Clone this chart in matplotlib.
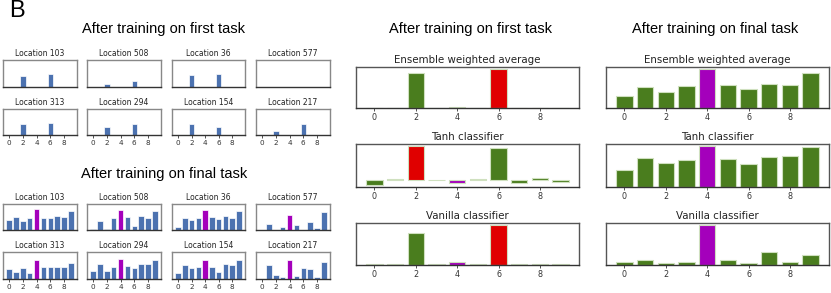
import matplotlib
matplotlib.use("Agg")
import matplotlib.pyplot as plt
import numpy as np

classes = np.arange(10)
xticks = [0, 2, 4, 6, 8]

# left panel: per-location outputs
locations_top = ["Location 103", "Location 508", "Location 36", "Location 577"]
locations_bot = ["Location 313", "Location 294", "Location 154", "Location 217"]

first_task_locs = [
    [0, 0, 0.40, 0, 0.01, 0, 0.49, 0, 0, 0],
    [0, 0, 0.11, 0, 0.01, 0, 0.22, 0, 0, 0],
    [0, 0, 0.43, 0, 0.01, 0, 0.47, 0, 0, 0],
    [0, 0, 0.00, 0, 0.01, 0, 0.00, 0, 0, 0],
    [0, 0, 0.41, 0, 0.00, 0, 0.46, 0, 0, 0],
    [0, 0, 0.32, 0, 0.00, 0, 0.42, 0, 0, 0],
    [0, 0, 0.41, 0, 0.01, 0, 0.31, 0, 0, 0],
    [0, 0, 0.17, 0, 0.00, 0, 0.42, 0, 0, 0],
]
final_task_locs = [
    [0.40, 0.50, 0.36, 0.47, 0.79, 0.47, 0.45, 0.54, 0.50, 0.73],
    [0.04, 0.35, 0.05, 0.45, 0.78, 0.50, 0.15, 0.55, 0.45, 0.73],
    [0.12, 0.47, 0.38, 0.46, 0.78, 0.50, 0.42, 0.54, 0.47, 0.72],
    [0.00, 0.23, 0.00, 0.10, 0.56, 0.19, 0.00, 0.29, 0.06, 0.71],
    [0.36, 0.25, 0.40, 0.22, 0.69, 0.43, 0.43, 0.46, 0.46, 0.60],
    [0.28, 0.56, 0.30, 0.46, 0.74, 0.49, 0.40, 0.56, 0.54, 0.69],
    [0.22, 0.53, 0.40, 0.46, 0.72, 0.43, 0.27, 0.56, 0.52, 0.72],
    [0.01, 0.51, 0.15, 0.09, 0.69, 0.10, 0.41, 0.37, 0.07, 0.63],
]

# classifier outputs
clf_names = ["Ensemble weighted average", "Tanh classifier", "Vanilla classifier"]
first_task_clf = [
    [0.002, 0.002, 0.47, 0.002, 0.012, 0.002, 0.52, 0.002, 0.002, 0.002],
    [-0.12, 0.025, 0.83, 0.0, -0.06, 0.025, 0.77, -0.06, 0.045, -0.04],
    [0.015, 0.015, 0.79, 0.015, 0.066, 0.015, 1.0, 0.015, 0.015, 0.015],
]
first_task_red = [6, 2, 6]
final_task_clf = [
    [0.30, 0.55, 0.41, 0.57, 1.0, 0.60, 0.48, 0.61, 0.59, 0.89],
    [0.41, 0.70, 0.58, 0.67, 1.0, 0.69, 0.55, 0.73, 0.76, 0.98],
    [0.066, 0.116, 0.042, 0.074, 1.0, 0.116, 0.05, 0.315, 0.083, 0.256],
]

BLUE = "#4c72b0"
GREEN = "#4a7d1e"
RED = "#e00000"
PURPLE = "#a400bb"

W, H = 831, 293
fig = plt.figure(figsize=(W / 100, H / 100), dpi=100)


def box(l, t, r, b):
    return [l / W, 1 - b / H, (r - l) / W, (b - t) / H]


def style(ax, spine_col, show_ticks, fs):
    for s in ax.spines.values():
        s.set_color(spine_col)
        s.set_linewidth(1.0)
    ax.spines["bottom"].set_color("#333333")
    ax.set_yticks([])
    if show_ticks:
        ax.set_xticks(xticks)
        ax.tick_params(axis="x", labelsize=fs, length=2, width=0.6, pad=1.5,
                       colors="#333333")
    else:
        ax.set_xticks([])


# left panel
cols = [(3, 77), (87, 161), (172, 245), (256, 330)]
rows = [(60, 87), (109, 135), (204, 230), (252, 279)]
names = locations_top + locations_bot
for g, data in enumerate([first_task_locs, final_task_locs]):
    for i in range(8):
        r, c = divmod(i, 4)
        t, b = rows[2 * g + r]
        l, rr = cols[c]
        ax = fig.add_axes(box(l, t, rr, b))
        colors = [PURPLE if k == 4 else BLUE for k in classes]
        ax.bar(classes, data[i], width=0.8, color=colors, edgecolor="white",
               linewidth=0.5)
        ax.set_ylim(0, 1)
        ax.set_xlim(-0.89, 9.89)
        ax.set_title(names[i], fontsize=5.5, pad=3, color="#222222")
        style(ax, "#888888", r == 1, 5.2)

fig.text(164 / W, 1 - 29 / H, "After training on first task", ha="center",
         va="center", fontsize=10.5, family="Liberation Sans")
fig.text(164 / W, 1 - 174 / H, "After training on final task", ha="center",
         va="center", fontsize=10.5, family="Liberation Sans")
fig.text(9 / W, 1 - 11 / H, "B", ha="left", va="center", fontsize=17,
         family="Liberation Sans")

# classifier columns
crow = [(67, 108), (144, 187), (223, 265)]
for col, (l, rr), data, title, cx in [
        (0, (356, 579), first_task_clf, "After training on first task", 471),
        (1, (606, 829), final_task_clf, "After training on final task", 715)]:
    fig.text(cx / W, 1 - 29 / H, title, ha="center", va="center",
             fontsize=10.5, family="Liberation Sans")
    for j in range(3):
        t, b = crow[j]
        ax = fig.add_axes(box(l, t, rr, b))
        colors = []
        for k in classes:
            if k == 4:
                colors.append(PURPLE)
            elif col == 0 and k == first_task_red[j]:
                colors.append(RED)
            else:
                colors.append(GREEN)
        ax.bar(classes, data[j], width=0.8, color=colors, edgecolor="#cfe0bf",
               linewidth=0.8)
        ax.set_title(clf_names[j], fontsize=7.4, pad=3, color="#222222")
        style(ax, "#555555", True, 5.8)

fig.savefig("out.png", dpi=100)
